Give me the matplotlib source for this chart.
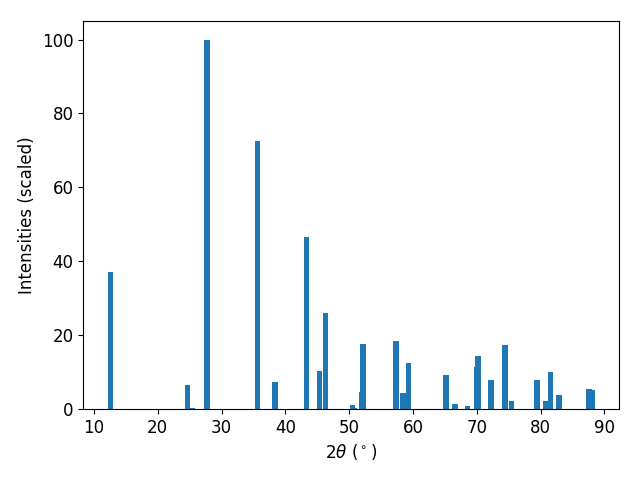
import numpy as np
import matplotlib
matplotlib.use("Agg")
import matplotlib.pyplot as plt

plt.rcParams['font.size'] = 12

# peak positions (2theta, degrees) and scaled intensities
two_theta = [12.54, 24.6, 25.4, 27.73, 35.6, 38.38, 43.32, 45.28, 46.22,
             50.45, 50.9, 52.0, 52.17, 57.34, 58.43, 59.3, 65.17, 66.58,
             68.6, 70.0, 70.18, 72.22, 74.41, 75.5, 79.42, 80.75, 81.5,
             82.87, 87.57, 88.04]
intensity = [37.1, 6.4, 0.3, 100.0, 72.6, 7.2, 46.6, 10.2, 26.0,
             1.0, 0.3, 4.5, 17.5, 18.4, 4.3, 12.4, 9.1, 1.3,
             0.8, 11.3, 14.3, 7.9, 17.2, 2.2, 7.9, 2.2, 10.0,
             3.8, 5.5, 5.0]

fig, ax = plt.subplots(figsize=(6.4, 4.8), dpi=100)
ax.bar(two_theta, intensity)
ax.set_xlabel(r'$2\theta$ ($^\circ$)')
ax.set_ylabel('Intensities (scaled)')
fig.subplots_adjust(left=0.13, right=0.967, top=0.956, bottom=0.148)
plt.savefig('out.png')
